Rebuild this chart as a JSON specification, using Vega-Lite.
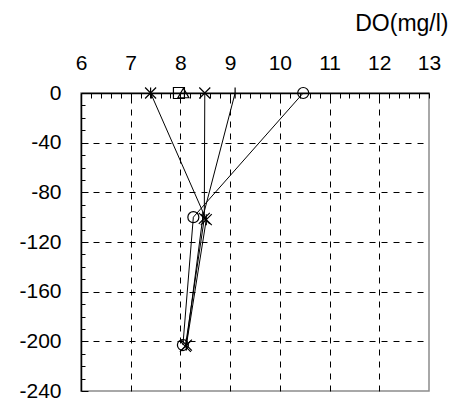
{
  "$schema": "https://vega.github.io/schema/vega-lite/v6.json",
  "width": 348,
  "height": 298,
  "autosize": "none",
  "padding": {"left": 81, "top": 93, "right": 25, "bottom": 13},
  "background": "white",
  "config": {
    "view": {"stroke": "#8c8c8c", "strokeWidth": 1.5},
    "axis": {
      "labelFont": "Liberation Sans",
      "labelFontSize": 21,
      "labelColor": "black",
      "domainColor": "black",
      "domainWidth": 1.5,
      "tickColor": "black",
      "tickWidth": 1,
      "gridColor": "black",
      "gridDash": [6, 6],
      "gridWidth": 1
    }
  },
  "data": {
    "values": [
      {"series": "A", "DO": 7.40, "depth": 0},
      {"series": "A", "DO": 8.52, "depth": -102},
      {"series": "A", "DO": 8.12, "depth": -203},
      {"series": "B", "DO": 8.49, "depth": 0},
      {"series": "B", "DO": 8.48, "depth": -101},
      {"series": "B", "DO": 8.10, "depth": -204},
      {"series": "C", "DO": 9.10, "depth": 0},
      {"series": "C", "DO": 8.45, "depth": -100},
      {"series": "C", "DO": 8.12, "depth": -202},
      {"series": "D", "DO": 10.47, "depth": 0},
      {"series": "D", "DO": 8.26, "depth": -100},
      {"series": "D", "DO": 8.05, "depth": -203},
      {"series": "E", "DO": 7.97, "depth": 0},
      {"series": "F", "DO": 8.06, "depth": 0}
    ]
  },
  "encoding": {
    "x": {
      "field": "DO",
      "type": "quantitative",
      "scale": {"domain": [6, 13], "nice": false, "zero": false},
      "axis": {
        "orient": "top",
        "values": [6, 6.2, 6.4, 6.6, 6.8, 7, 7.2, 7.4, 7.6, 7.8, 8, 8.2, 8.4, 8.6, 8.8, 9, 9.2, 9.4, 9.6, 9.8, 10, 10.2, 10.4, 10.6, 10.8, 11, 11.2, 11.4, 11.6, 11.8, 12, 12.2, 12.4, 12.6, 12.8, 13],
        "labelExpr": "abs(datum.value-round(datum.value))<0.01 ? ''+round(datum.value) : ''",
        "tickSize": -5,
        "labelPadding": 29,
        "labelBaseline": "alphabetic",
        "labelFlush": false,
        "labelOverlap": false,
        "grid": true,
        "gridOpacity": {"condition": {"test": "abs(datum.value-round(datum.value))<0.01 && datum.value>6.5 && datum.value<12.5", "value": 1}, "value": 0},
        "title": "DO(mg/l)",
        "titleFont": "Liberation Sans",
        "titleFontSize": 23,
        "titleFontWeight": "normal",
        "titleColor": "black",
        "titleAlign": "right",
        "titleAnchor": null,
        "titleX": 367,
        "titleY": -63,
        "titleBaseline": "alphabetic",
        "titleAngle": 0
      }
    },
    "y": {
      "field": "depth",
      "type": "quantitative",
      "scale": {"domain": [-240, 0], "nice": false, "zero": false},
      "axis": {
        "orient": "left",
        "values": [0, -10, -20, -30, -40, -50, -60, -70, -80, -90, -100, -110, -120, -130, -140, -150, -160, -170, -180, -190, -200, -210, -220, -230, -240],
        "labelExpr": "datum.value % 40 == 0 ? ''+datum.value : ''",
        "tickSize": {"condition": {"test": "datum.value % 40 == 0", "value": -7}, "value": -4},
        "labelPadding": 27,
        "labelFlush": false,
        "labelOverlap": false,
        "grid": true,
        "gridOpacity": {"condition": {"test": "datum.value % 40 == 0 && datum.value < -10 && datum.value > -230", "value": 1}, "value": 0},
        "title": null
      }
    }
  },
  "layer": [
    {
      "mark": {"type": "line", "color": "black", "strokeWidth": 1},
      "encoding": {
        "detail": {"field": "series"},
        "order": {"field": "depth", "sort": "descending"}
      }
    },
    {
      "mark": {"type": "point", "filled": false, "stroke": "black", "strokeWidth": 1.2, "size": 121, "opacity": 1},
      "encoding": {
        "shape": {
          "field": "series",
          "type": "nominal",
          "scale": {
            "domain": ["A", "B", "C", "D", "E", "F"],
            "range": ["M-1,-1L1,1M-1,1L1,-1M0,-1L0,1", "M-1,-1L1,1M-1,1L1,-1", "M0,-1L0,1", "circle", "square", "triangle-up"]
          },
          "legend": null
        }
      }
    }
  ]
}
